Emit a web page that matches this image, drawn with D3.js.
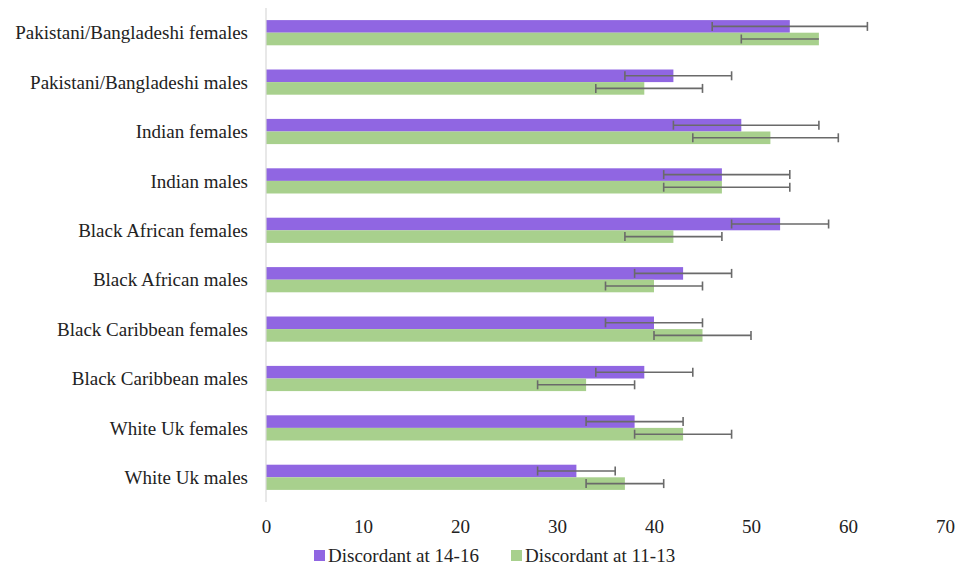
<!DOCTYPE html>
<html>
<head>
<meta charset="utf-8">
<script src="https://cdn.jsdelivr.net/npm/d3@7"></script>
<style>
  body { margin: 0; background: #fff; }
  svg text { font-family: "Liberation Serif", "Times New Roman", serif; fill: #222; }
</style>
</head>
<body>
<svg id="chart" width="956" height="567"></svg>
<script>
// categories top to bottom
const groups = [
    "Pakistani/Bangladeshi females", "Pakistani/Bangladeshi males",
    "Indian females", "Indian males",
    "Black African females", "Black African males",
    "Black Caribbean females", "Black Caribbean males",
    "White Uk females", "White Uk males"
];
const seriesNames = ["Discordant at 14-16", "Discordant at 11-13"];
const seriesColors = ["#9066e2", "#a8d08d"];

// Discordant at 14-16
const late = [54, 42, 49, 47, 53, 43, 40, 39, 38, 32];
const lateLo = [46, 37, 42, 41, 48, 38, 35, 34, 33, 28];
const lateHi = [62, 48, 57, 54, 58, 48, 45, 44, 43, 36];
// Discordant at 11-13 (upper whisker of first group not shown in the source)
const early = [57, 39, 52, 47, 42, 40, 45, 33, 43, 37];
const earlyLo = [49, 34, 44, 41, 37, 35, 40, 28, 38, 33];
const earlyHi = [null, 45, 59, 54, 47, 45, 50, 38, 48, 41];

const xTicks = [0, 10, 20, 30, 40, 50, 60, 70];

const svg = d3.select("#chart");
const margin = { top: 8, left: 266, right: 11, bottom: 65 };
const width = +svg.attr("width") - margin.left - margin.right;
const height = +svg.attr("height") - margin.top - margin.bottom;
const fontSize = "19px";

const x = d3.scaleLinear().domain([0, 70]).range([0, width]);
const y = d3.scaleBand().domain(groups).range([0, height]).paddingInner(0.49).paddingOuter(0.245);
const sub = d3.scaleBand().domain([0, 1]).range([0, y.bandwidth()]);

const g = svg.append("g").attr("transform", `translate(${margin.left},${margin.top})`);

// bars
const series = [
    { vals: late, lo: lateLo, hi: lateHi },
    { vals: early, lo: earlyLo, hi: earlyHi }
];
series.forEach((s, si) => {
    const rows = groups.map((name, i) => ({ name, v: s.vals[i], lo: s.lo[i], hi: s.hi[i] }));
    const sg = g.append("g");
    sg.selectAll("rect")
        .data(rows)
        .enter().append("rect")
        .attr("x", 0)
        .attr("y", d => y(d.name) + sub(si))
        .attr("width", d => x(d.v))
        .attr("height", sub.bandwidth())
        .attr("fill", seriesColors[si]);

    // error bars
    const eg = sg.selectAll("g.err").data(rows).enter().append("g").attr("class", "err")
        .attr("transform", d => `translate(0,${y(d.name) + sub(si) + sub.bandwidth() / 2})`)
        .attr("stroke", "#6a6a6a").attr("stroke-width", 1.6);
    eg.append("line")
        .attr("x1", d => x(d.lo)).attr("x2", d => x(d.hi == null ? d.v : d.hi))
        .attr("y1", 0).attr("y2", 0);
    eg.append("line")
        .attr("x1", d => x(d.lo)).attr("x2", d => x(d.lo))
        .attr("y1", -4.5).attr("y2", 4.5);
    eg.filter(d => d.hi != null).append("line")
        .attr("x1", d => x(d.hi)).attr("x2", d => x(d.hi))
        .attr("y1", -4.5).attr("y2", 4.5);
});

// vertical axis line
g.append("line")
    .attr("x1", 0).attr("x2", 0)
    .attr("y1", 0).attr("y2", height)
    .attr("stroke", "#d9d9d9").attr("stroke-width", 1.2);

// category labels
g.selectAll("text.cat")
    .data(groups)
    .enter().append("text")
    .attr("class", "cat")
    .attr("x", -18)
    .attr("y", d => y(d) + y.bandwidth() / 2)
    .attr("dy", "0.35em")
    .attr("text-anchor", "end")
    .style("font-size", fontSize)
    .text(d => d);

// x tick labels
const xAxis = g.append("g")
    .attr("transform", `translate(0,${height})`)
    .call(d3.axisBottom(x).tickValues(xTicks).tickSize(0).tickPadding(18));
xAxis.select(".domain").remove();
xAxis.selectAll("text")
    .style("font-family", "'Liberation Serif', 'Times New Roman', serif")
    .style("font-size", fontSize)
    .attr("fill", "#222");

// legend
const legend = svg.append("g").attr("transform", "translate(314,555)");
const legendX = [0, 197];
seriesNames.forEach((name, i) => {
    const lg = legend.append("g").attr("transform", `translate(${legendX[i]},0)`);
    lg.append("rect").attr("x", 0).attr("y", -5).attr("width", 11).attr("height", 11)
        .attr("fill", seriesColors[i]);
    lg.append("text").attr("x", 14).attr("y", 0).attr("dy", "0.35em")
        .style("font-size", fontSize).text(name);
});
</script>
</body>
</html>
